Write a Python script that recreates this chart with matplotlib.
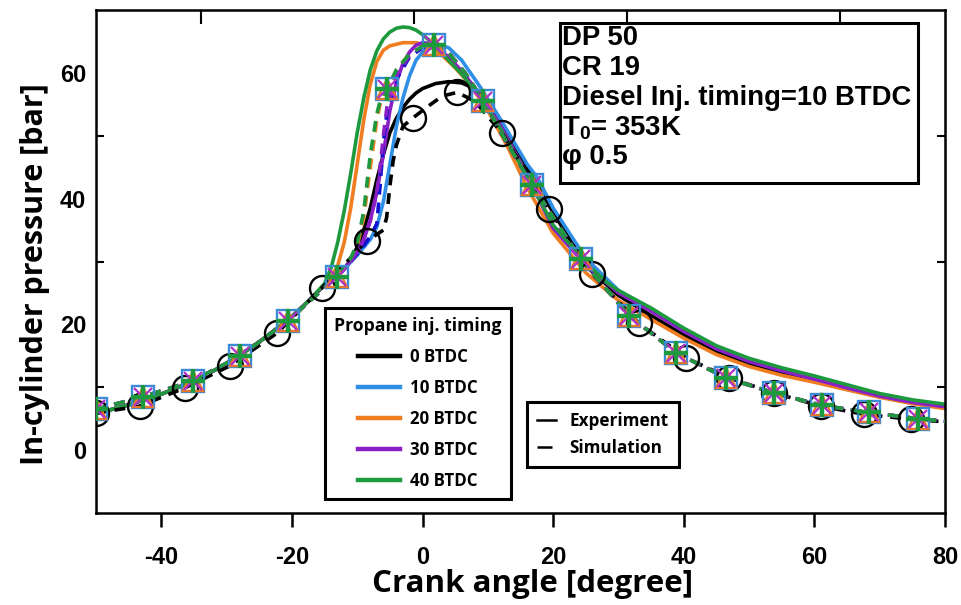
import matplotlib
matplotlib.use("Agg")
import matplotlib.pyplot as plt
from matplotlib.lines import Line2D
from matplotlib.patches import Rectangle

plt.rcParams['mathtext.fontset'] = 'custom'
plt.rcParams['mathtext.rm'] = 'Liberation Sans:bold'
plt.rcParams['mathtext.it'] = 'Liberation Sans:bold'
plt.rcParams['mathtext.bf'] = 'Liberation Sans:bold'

# ---------------- data ----------------
cases = ["0 BTDC", "10 BTDC", "20 BTDC", "30 BTDC", "40 BTDC"]
colors = ["#000000", "#2f8fe6", "#f07d20", "#8b1fc6", "#1e9a3e"]
sim_colors = ["#000000", "#1010d0", "#f07d20", "#8b1fc6", "#1e9a3e"]
markers = ["o", "s", "^", "x", "+"]

# Experiment (solid lines)
exp_x_black = [-50, -45, -40, -35, -30, -25, -20, -17, -15, -13, -12, -11, -10, -9, -8, -7, -6, -5, -4, -3, -2,
               -1, 0, 2, 4, 6, 8, 10, 12.2, 16, 19.3, 25, 30, 35, 40, 45, 50, 55, 60, 65, 70, 75, 80]
exp_y_black = [5.8, 7.2, 8.9, 11.0, 13.7, 17.2, 21.2, 24.2, 26.3, 27.7, 28.8, 30.3, 32.3, 35.0, 38.5, 43.0, 47.0,
               50.5, 52.8, 54.5, 55.8, 56.8, 57.5, 58.3, 58.6, 58.4, 57.5, 55.5, 52.0, 45.0, 39.0, 29.3, 24.6,
               21.4, 18.3, 15.6, 13.7, 12.2, 11.0, 9.7, 8.5, 7.5, 6.7]

exp_x_blue = [-50, -45, -40, -35, -30, -25, -20, -17, -15, -13, -10, -8, -7, -6, -5, -4, -3, -2, -1, 0, 1, 2.5,
              4, 6, 9, 12, 16, 17.6, 20, 25, 30, 35, 40, 45, 50, 55, 60, 65, 70, 75, 80]
exp_y_blue = [5.8, 7.2, 8.9, 11.0, 13.7, 17.2, 21.2, 24.2, 26.3, 27.7, 31.0, 33.5, 35.5, 39.5, 45.5, 51.5, 56.0,
              59.5, 62.0, 63.3, 64.1, 64.5, 64.0, 62.0, 57.5, 52.5, 45.5, 43.3, 38.5, 30.5, 25.4, 22.3, 19.0,
              16.2, 14.2, 12.7, 11.4, 10.0, 8.8, 7.8, 7.0]

exp_x_orange = [-50, -45, -40, -35, -30, -25, -20, -17, -15, -14, -13, -12, -11, -10, -9, -8, -7, -6, -5, -3,
                -1, 1, 3, 5, 7, 10, 13, 16, 20, 25, 30, 35, 40, 45, 50, 55, 60, 65, 70, 75, 80]
exp_y_orange = [5.8, 7.2, 8.9, 11.0, 13.7, 17.2, 21.2, 24.2, 26.3, 27.6, 29.3, 33.0, 38.5, 45.5, 52.5, 58.2,
                61.8, 63.6, 64.3, 64.8, 64.8, 64.3, 62.8, 60.8, 58.5, 54.0, 48.3, 41.8, 34.5, 28.2, 23.8, 20.8,
                17.8, 15.2, 13.3, 11.9, 10.8, 9.6, 8.4, 7.4, 6.6]

exp_x_purple = [-50, -45, -40, -35, -30, -25, -20, -17, -15, -13, -12, -10, -9, -8, -7, -6, -5, -4, -3, -2, -1,
                0, 1, 2, 4, 6, 9, 12, 16, 20, 25, 30, 35, 40, 45, 50, 55, 60, 65, 70, 75, 80]
exp_y_purple = [5.8, 7.2, 8.9, 11.0, 13.7, 17.2, 21.2, 24.2, 26.3, 27.7, 28.8, 31.5, 33.5, 36.5, 41.0, 47.0,
                54.0, 58.5, 61.5, 63.3, 64.4, 64.8, 64.7, 64.2, 62.5, 60.3, 56.3, 51.5, 43.8, 35.3, 29.4, 25.0,
                22.1, 18.9, 16.1, 14.1, 12.6, 11.3, 9.9, 8.6, 7.6, 6.9]

exp_x_green = [-50, -45, -40, -35, -30, -25, -20, -17, -15, -14, -13, -12, -11, -10, -9, -8, -7, -6, -5, -4, -3,
               -2, -1, 0, 2, 4, 6, 9, 12, 16, 20, 25, 28.3, 30, 35, 40, 45, 50, 55, 60, 65, 70, 75, 80]
exp_y_green = [5.8, 7.2, 8.9, 11.0, 13.7, 17.2, 21.2, 24.2, 26.5, 29.0, 33.0, 38.0, 44.0, 50.5, 56.0, 60.5,
               63.5, 65.4, 66.5, 67.1, 67.3, 67.2, 66.8, 66.1, 64.3, 62.0, 59.8, 56.0, 51.0, 43.5, 35.8, 29.8,
               26.6, 25.4, 22.6, 19.4, 16.6, 14.6, 13.1, 11.8, 10.4, 9.0, 8.0, 7.3]

exp_x = [exp_x_black, exp_x_blue, exp_x_orange, exp_x_purple, exp_x_green]
exp_y = [exp_y_black, exp_y_blue, exp_y_orange, exp_y_purple, exp_y_green]

# Simulation (dashed lines)
sim_x_black = [-50, -43.3, -36.4, -29.5, -22.3, -15.4, -12, -8.5, -7, -6, -5.5, -5, -4.5, -4, -3, -1.4, 1, 3,
               5.3, 8, 12.2, 19.3, 26.0, 33.1, 40.3, 46.9, 53.8, 61.0, 67.6, 74.8, 80]
sim_y_black = [5.9, 7.0, 9.9, 13.4, 18.6, 25.8, 29.5, 33.3, 34.3, 35.0, 37.0, 42.0, 46.0, 48.5, 51.5, 52.9,
               54.8, 56.3, 56.9, 55.5, 50.4, 38.4, 28.0, 20.2, 14.7, 11.5, 9.1, 7.0, 5.7, 4.9, 4.5]

sim_x_common = [-50, -42.8, -35.2, -27.9, -20.6, -13.1, -11, -10, -9, -8, -7, -6.5, -6, -5.4, -4, -2, 0, 1.7,
                4, 6.5, 9.3, 12, 16.8, 24.2, 31.6, 38.8, 46.4, 53.8, 61.2, 68.4, 75.8, 80]
sim_y_blue = [6.5, 8.5, 11.0, 15.0, 20.6, 27.6, 30.0, 31.2, 32.5, 34.0, 36.0, 42.0, 49.0, 54.0, 59.0, 62.5,
              64.0, 64.4, 63.2, 60.0, 55.6, 50.5, 42.1, 30.4, 21.4, 15.5, 11.5, 9.1, 7.1, 6.0, 5.0, 4.6]
sim_y_orange = [6.5, 8.5, 11.0, 15.0, 20.6, 27.6, 30.3, 32.5, 37.0, 45.0, 52.5, 55.0, 56.5, 57.5, 60.5, 63.0,
                64.2, 64.4, 63.2, 60.0, 55.6, 50.5, 42.1, 30.4, 21.4, 15.5, 11.5, 9.1, 7.1, 6.0, 5.0, 4.6]
sim_y_purple = [6.5, 8.5, 11.0, 15.0, 20.6, 27.6, 30.0, 31.5, 33.5, 36.5, 41.0, 45.0, 50.0, 55.0, 59.5, 62.8,
                64.2, 64.4, 63.2, 60.0, 55.6, 50.5, 42.1, 30.4, 21.4, 15.5, 11.5, 9.1, 7.1, 6.0, 5.0, 4.6]
sim_y_green = [6.5, 8.5, 11.0, 15.0, 20.6, 27.6, 30.5, 33.0, 38.0, 47.0, 53.5, 55.5, 56.5, 57.5, 60.5, 63.0,
               64.2, 64.4, 63.2, 60.0, 55.6, 50.5, 42.1, 30.4, 21.4, 15.5, 11.5, 9.1, 7.1, 6.0, 5.0, 4.6]

sim_x = [sim_x_black, sim_x_common, sim_x_common, sim_x_common, sim_x_common]
sim_y = [sim_y_black, sim_y_blue, sim_y_orange, sim_y_purple, sim_y_green]

# Simulation markers
mk_x_black = [-50, -43.3, -36.4, -29.5, -22.3, -15.4, -8.5, -1.4, 5.3, 12.2, 19.3, 26.0, 33.1, 40.3, 46.9,
              53.8, 61.0, 67.6, 74.8]
mk_y_black = [5.9, 7.0, 9.9, 13.4, 18.6, 25.8, 33.3, 52.9, 56.9, 50.4, 38.4, 28.0, 20.2, 14.7, 11.5, 9.1,
              7.0, 5.7, 4.9]
mk_x_common = [-50, -42.8, -35.2, -27.9, -20.6, -13.1, -5.4, 1.7, 9.3, 16.8, 24.2, 31.6, 38.8, 46.4, 53.8,
               61.2, 68.4, 75.8]
mk_y_common = [6.5, 8.5, 11.0, 15.0, 20.6, 27.6, 57.5, 64.4, 55.6, 42.1, 30.4, 21.4, 15.5, 11.5, 9.1, 7.1,
               6.0, 5.0]
mk_x = [mk_x_black, mk_x_common, mk_x_common, mk_x_common, mk_x_common]
mk_y = [mk_y_black, mk_y_common, mk_y_common, mk_y_common, mk_y_common]

xticks = [-40, -20, 0, 20, 40, 60, 80]
yticks = [0, 20, 40, 60]
yminor = [10, 30, 50]
top_ticks = [-33.9, -1.3, 31.3, 63.9]

info_lines = ["DP 50", "CR 19", "Diesel Inj. timing=10 BTDC", r"T$_0$= 353K", "φ 0.5"]

# ---------------- figure ----------------
fig = plt.figure(figsize=(9.61, 6.05), dpi=100)
ax = fig.add_axes([96 / 961, 1 - 513 / 605, 849 / 961, 503 / 605])
ax.set_xlim(-50, 80)
ax.set_ylim(-10, 70)

for i in range(5):
    ax.plot(exp_x[i], exp_y[i], color=colors[i], lw=2.6, zorder=2, solid_capstyle='round')
for i in range(5):
    ax.plot(sim_x[i], sim_y[i], color=sim_colors[i], lw=2.6, ls=(0, (3, 2.2)), zorder=3)

mk_style = {
    "o": dict(ms=18, mew=1.7),
    "s": dict(ms=16, mew=1.7),
    "^": dict(ms=15, mew=1.7),
    "x": dict(ms=13, mew=1.6),
    "+": dict(ms=17, mew=3.2),
}
mk_edge = ["#000000", "#3a8ad6", "#e8772a", "#b030c8", "#1e9a3e"]
for i in range(5):
    m = markers[i]
    ax.plot(mk_x[i], mk_y[i], ls='none', marker=m, mfc='none', mec=mk_edge[i],
            zorder=4 + i, **mk_style[m])

# axes styling
for s in ax.spines.values():
    s.set_linewidth(1.8)
ax.set_xticks(xticks)
ax.set_xticklabels([f"{t}" for t in xticks])
ax.set_yticks(yticks)
ax.set_yticks(yminor, minor=True)
ax.tick_params(axis='x', which='major', direction='out', length=10, width=1.8, pad=14,
               labelsize=17)
ax.tick_params(axis='y', which='major', length=0, pad=7, labelsize=17)
ax.tick_params(axis='y', which='minor', direction='in', length=6, width=1.5, left=True, right=True)
for lab in ax.get_xticklabels() + ax.get_yticklabels():
    lab.set_fontfamily('Liberation Sans')
    lab.set_fontweight('bold')

ax2 = ax.twiny()
ax2.set_xlim(ax.get_xlim())
ax2.set_xticks(top_ticks)
ax2.tick_params(axis='x', direction='in', length=10, width=1.5, labeltop=False)
for s in ax2.spines.values():
    s.set_visible(False)

ax.set_xlabel("Crank angle [degree]", fontfamily='Open Sans', fontweight='bold', fontsize=22.5)
ax.xaxis.set_label_coords((533 - 96) / 849, (513 - 569) / 503)
ax.set_ylabel("In-cylinder pressure [bar]", fontfamily='Open Sans', fontweight='bold', fontsize=22)
ax.yaxis.set_label_coords((50 - 96) / 849, (513 - 274) / 503)

# info box
ax.add_patch(Rectangle((0.5465, 0.656), 0.4215, 0.318, transform=ax.transAxes, fill=True,
                       facecolor='white', edgecolor='black', lw=2.2, zorder=10))
line_y_px = [38, 68, 98, 128, 157]
for txt, ypx in zip(info_lines, line_y_px):
    ax.text((562 - 96) / 849, (513 - ypx) / 503, txt, transform=ax.transAxes, ha='left', va='center',
            fontsize=19.8, fontfamily='Liberation Sans', fontweight='bold', zorder=11)

# legends
h1 = [Line2D([], [], color=c, lw=3.2) for c in colors]
leg1 = ax.legend(h1, cases, title="Propane inj. timing", loc='upper left',
                 bbox_to_anchor=((325 - 96) / 849, (513 - 308) / 503), borderaxespad=0,
                 frameon=True, fancybox=False, edgecolor='black', framealpha=1,
                 prop={'family': 'Open Sans', 'weight': 'bold', 'size': 12.2},
                 title_fontproperties={'family': 'Open Sans', 'weight': 'bold', 'size': 12.7},
                 handlelength=2.5, handletextpad=0.6, labelspacing=0.76, borderpad=0.55)
leg1.get_frame().set_linewidth(2.2)
leg1.set_zorder(12)
ax.add_artist(leg1)

h2 = [Line2D([], [], color='black', lw=1.8), Line2D([], [], color='black', lw=1.8, ls=(0, (6, 10)))]
leg2 = ax.legend(h2, ["Experiment", "Simulation"], loc='upper left',
                 bbox_to_anchor=((527 - 96) / 849, (513 - 402) / 503), borderaxespad=0,
                 frameon=True, fancybox=False, edgecolor='black', framealpha=1,
                 prop={'family': 'Open Sans', 'weight': 'bold', 'size': 12.3},
                 handlelength=1.1, handletextpad=0.8, labelspacing=0.5, borderpad=0.6)
leg2.get_frame().set_linewidth(2.2)
leg2.set_zorder(12)

fig.savefig("out.png", dpi=100)
